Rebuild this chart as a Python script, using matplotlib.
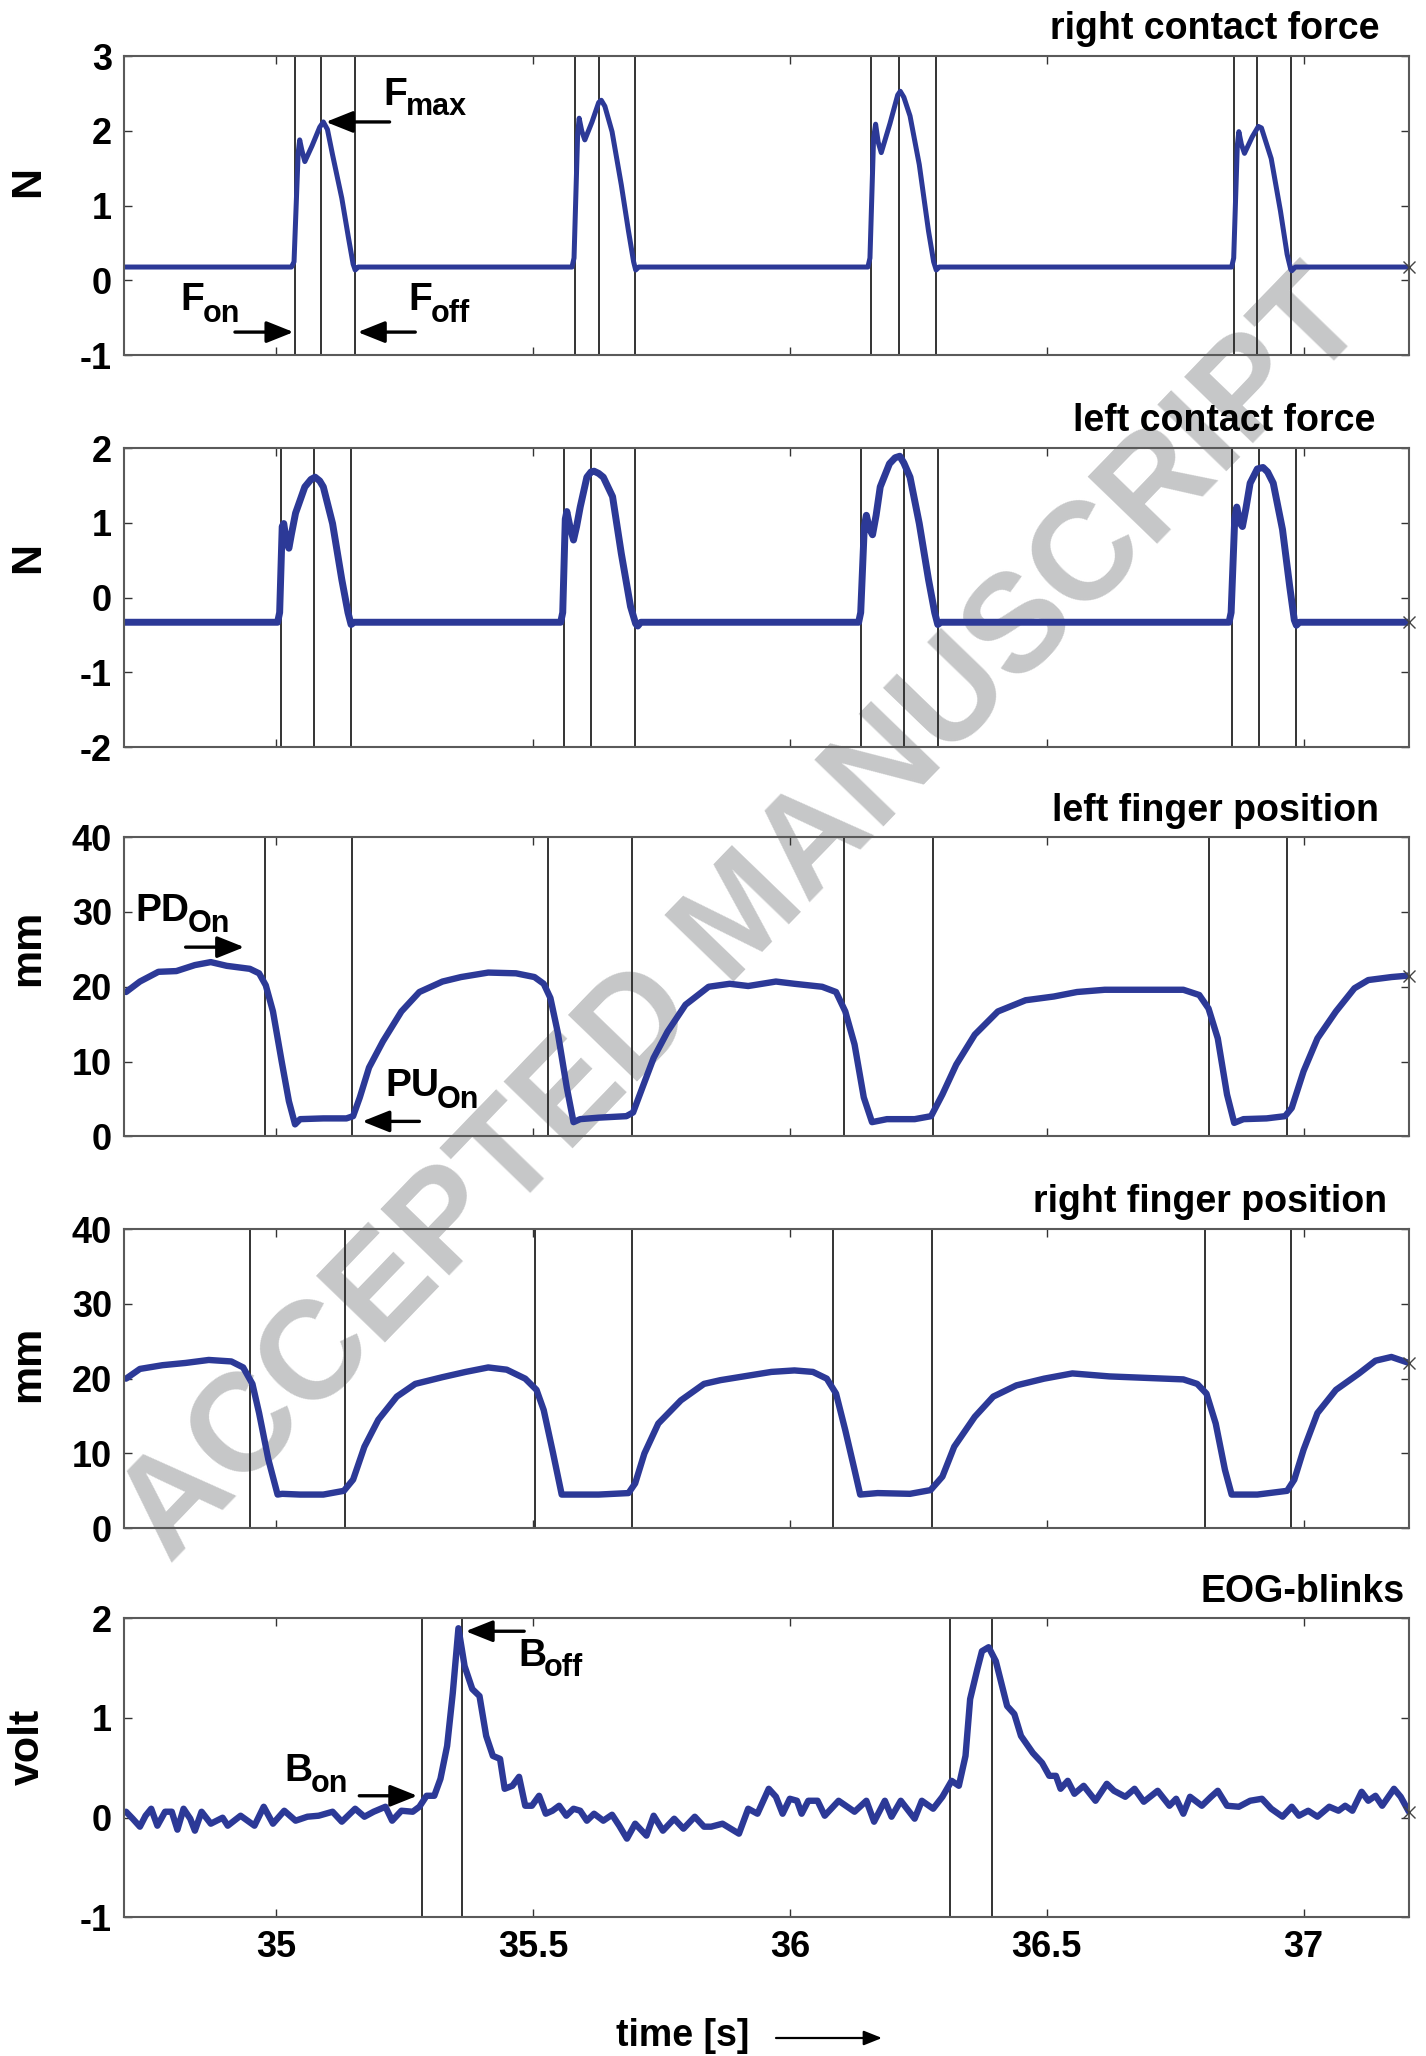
import numpy as np
import matplotlib
matplotlib.use("Agg")
import matplotlib.pyplot as plt

plt.rcParams['font.family'] = ['Liberation Sans', 'DejaVu Sans']
plt.rcParams['font.weight'] = 'bold'
plt.rcParams['axes.unicode_minus'] = False

BLUE = '#2c3997'
XMIN, XMAX = 34.705, 37.205
FS = 26

# ---- data (time in s) ----
rforce_t = [34.705, 35.030, 35.035, 35.043, 35.046, 35.050, 35.056, 35.070, 35.085, 35.092,
            35.100, 35.110, 35.128, 35.141, 35.150, 35.154, 35.160,
            35.576, 35.580, 35.587, 35.590, 35.595, 35.601, 35.615, 35.628, 35.633, 35.640,
            35.654, 35.672, 35.686, 35.696, 35.700, 35.706,
            36.152, 36.156, 36.163, 36.167, 36.172, 36.178, 36.195, 36.210, 36.215, 36.222,
            36.234, 36.252, 36.270, 36.280, 36.285, 36.291,
            36.860, 36.864, 36.871, 36.874, 36.879, 36.885, 36.900, 36.912, 36.918, 36.937,
            36.955, 36.968, 36.975, 36.977, 36.984, 37.205]
rforce_v = [0.18, 0.18, 0.25, 1.70, 1.88, 1.75, 1.59, 1.80, 2.05, 2.12,
            2.02, 1.68, 1.10, 0.57, 0.22, 0.14, 0.18,
            0.18, 0.30, 1.95, 2.17, 2.00, 1.88, 2.12, 2.38, 2.41, 2.33,
            1.99, 1.28, 0.66, 0.25, 0.14, 0.18,
            0.18, 0.30, 1.90, 2.09, 1.85, 1.71, 2.10, 2.48, 2.53, 2.45,
            2.20, 1.55, 0.66, 0.25, 0.14, 0.18,
            0.18, 0.30, 1.80, 1.99, 1.82, 1.70, 1.92, 2.06, 2.04, 1.63,
            0.93, 0.35, 0.15, 0.13, 0.18, 0.18]
rforce_events = [35.036, 35.0875, 35.153, 35.581, 35.628, 35.699,
                 36.159, 36.212, 36.284, 36.865, 36.909, 36.975]

lforce_t = [34.705, 35.003, 35.007, 35.012, 35.015, 35.020, 35.025, 35.030, 35.038, 35.056,
            35.068, 35.076, 35.085, 35.092, 35.110, 35.128, 35.140, 35.146, 35.152,
            35.554, 35.558, 35.563, 35.566, 35.572, 35.579, 35.585, 35.592, 35.605, 35.613,
            35.619, 35.628, 35.637, 35.655, 35.672, 35.690, 35.700, 35.704, 35.710,
            36.134, 36.138, 36.145, 36.149, 36.155, 36.161, 36.168, 36.176, 36.194, 36.205,
            36.214, 36.222, 36.234, 36.252, 36.270, 36.282, 36.288, 36.294,
            36.855, 36.859, 36.866, 36.870, 36.876, 36.881, 36.888, 36.896, 36.910, 36.921,
            36.930, 36.941, 36.959, 36.973, 36.982, 36.986, 36.992, 37.205]
lforce_v = [-0.33, -0.33, -0.20, 0.95, 0.99, 0.75, 0.66, 0.85, 1.13, 1.48,
            1.58, 1.61, 1.56, 1.48, 0.99, 0.24, -0.20, -0.36, -0.33,
            -0.33, -0.20, 1.05, 1.15, 0.95, 0.77, 0.95, 1.21, 1.61, 1.68,
            1.69, 1.66, 1.61, 1.35, 0.59, -0.12, -0.35, -0.38, -0.33,
            -0.33, -0.20, 0.95, 1.10, 0.92, 0.84, 1.10, 1.48, 1.79, 1.87,
            1.89, 1.80, 1.61, 0.99, 0.24, -0.20, -0.36, -0.33,
            -0.33, -0.20, 1.05, 1.21, 1.00, 0.95, 1.20, 1.53, 1.72, 1.74,
            1.68, 1.53, 0.91, 0.15, -0.30, -0.37, -0.33, -0.33]
lforce_events = [35.009, 35.074, 35.146, 35.561, 35.614, 35.699,
                 36.138, 36.222, 36.288, 36.861, 36.914, 36.985]

lpos_t = [34.708, 34.735, 34.771, 34.806, 34.842, 34.873, 34.904, 34.949, 34.967, 34.980,
          34.994, 35.011, 35.025, 35.037, 35.047, 35.092, 35.137, 35.150, 35.163, 35.181,
          35.208, 35.244, 35.279, 35.324, 35.360, 35.413, 35.467, 35.503, 35.521, 35.534,
          35.548, 35.566, 35.579, 35.592, 35.628, 35.682, 35.695, 35.713, 35.735, 35.762,
          35.797, 35.842, 35.883, 35.919, 35.973, 36.009, 36.063, 36.090, 36.108, 36.126,
          36.144, 36.160, 36.189, 36.243, 36.275, 36.297, 36.324, 36.360, 36.405, 36.459,
          36.514, 36.559, 36.613, 36.685, 36.766, 36.797, 36.815, 36.833, 36.851, 36.865,
          36.883, 36.928, 36.964, 36.977, 37.000, 37.027, 37.063, 37.099, 37.126, 37.171, 37.205]
lpos_v = [19.3, 20.7, 22.0, 22.1, 22.9, 23.3, 22.8, 22.4, 21.8, 20.2,
          16.7, 10.0, 4.7, 1.6, 2.3, 2.4, 2.4, 2.7, 5.2, 9.2,
          12.7, 16.7, 19.3, 20.7, 21.3, 21.9, 21.8, 21.3, 20.4, 18.5,
          14.0, 6.5, 1.9, 2.3, 2.5, 2.7, 3.2, 6.5, 10.5, 14.0,
          17.6, 20.0, 20.4, 20.1, 20.7, 20.4, 20.0, 19.3, 16.7, 12.3,
          5.2, 1.9, 2.3, 2.3, 2.7, 5.6, 9.6, 13.6, 16.7, 18.2,
          18.7, 19.3, 19.6, 19.6, 19.6, 18.9, 17.1, 13.1, 5.6, 1.8,
          2.3, 2.4, 2.7, 3.8, 8.7, 13.1, 16.7, 19.8, 20.9, 21.3, 21.5]
lpos_events = [34.979, 35.148, 35.529, 35.692, 36.105, 36.278, 36.815, 36.968]

rpos_t = [34.708, 34.735, 34.779, 34.824, 34.869, 34.913, 34.936, 34.954, 34.967, 34.985,
          35.003, 35.012, 35.047, 35.092, 35.132, 35.150, 35.172, 35.199, 35.235, 35.271,
          35.324, 35.369, 35.413, 35.449, 35.485, 35.507, 35.521, 35.539, 35.556, 35.574,
          35.628, 35.686, 35.699, 35.717, 35.744, 35.788, 35.833, 35.865, 35.919, 35.964,
          36.009, 36.045, 36.072, 36.090, 36.108, 36.126, 36.137, 36.171, 36.234, 36.274,
          36.297, 36.320, 36.360, 36.396, 36.441, 36.495, 36.550, 36.622, 36.694, 36.766,
          36.793, 36.811, 36.829, 36.847, 36.860, 36.910, 36.968, 36.982, 37.000, 37.027,
          37.063, 37.108, 37.140, 37.171, 37.205]
rpos_v = [20.0, 21.3, 21.8, 22.1, 22.5, 22.3, 21.5, 19.3, 15.4, 9.2,
          4.5, 4.6, 4.5, 4.5, 5.0, 6.5, 10.9, 14.5, 17.6, 19.3,
          20.2, 20.9, 21.5, 21.2, 20.0, 18.5, 15.8, 10.1, 4.5, 4.5,
          4.5, 4.7, 6.0, 10.0, 14.0, 17.1, 19.3, 19.8, 20.4, 20.9,
          21.1, 20.9, 20.0, 18.0, 13.1, 7.8, 4.5, 4.7, 4.6, 5.1,
          6.9, 10.9, 14.9, 17.6, 19.1, 20.0, 20.7, 20.3, 20.1, 19.9,
          19.3, 18.0, 14.0, 7.8, 4.5, 4.5, 5.0, 6.5, 10.5, 15.4,
          18.5, 20.7, 22.4, 22.9, 22.1]
rpos_events = [34.950, 35.135, 35.504, 35.692, 36.084, 36.277, 36.809, 36.976]

eog_t = [34.708, 34.721, 34.735, 34.746, 34.757, 34.769, 34.784, 34.797, 34.808, 34.820,
         34.833, 34.842, 34.855, 34.873, 34.896, 34.906, 34.931, 34.958, 34.976, 34.994,
         35.016, 35.038, 35.061, 35.083, 35.110, 35.128, 35.154, 35.172, 35.190, 35.213,
         35.226, 35.244, 35.266, 35.279, 35.293, 35.308, 35.320, 35.333, 35.344, 35.355,
         35.367, 35.382, 35.396, 35.409, 35.422, 35.436, 35.445, 35.460, 35.473, 35.485,
         35.498, 35.512, 35.525, 35.538, 35.551, 35.565, 35.579, 35.592, 35.605, 35.619,
         35.637, 35.654, 35.668, 35.683, 35.699, 35.721, 35.735, 35.753, 35.775, 35.793,
         35.815, 35.833, 35.847, 35.869, 35.901, 35.919, 35.937, 35.959, 35.973, 35.986,
         36.000, 36.014, 36.023, 36.036, 36.054, 36.068, 36.095, 36.126, 36.149, 36.164,
         36.185, 36.198, 36.216, 36.243, 36.257, 36.279, 36.297, 36.315, 36.329, 36.342,
         36.351, 36.365, 36.374, 36.387, 36.401, 36.423, 36.437, 36.450, 36.473, 36.491,
         36.505, 36.518, 36.527, 36.541, 36.554, 36.572, 36.595, 36.617, 36.631, 36.653,
         36.671, 36.689, 36.716, 36.739, 36.752, 36.766, 36.779, 36.802, 36.820, 36.833,
         36.851, 36.874, 36.896, 36.919, 36.937, 36.959, 36.977, 36.991, 37.009, 37.027,
         37.050, 37.068, 37.081, 37.095, 37.113, 37.126, 37.140, 37.153, 37.176, 37.189, 37.205]
eog_v = [0.06, -0.01, -0.09, 0.02, 0.09, -0.08, 0.06, 0.06, -0.12, 0.09,
         -0.01, -0.13, 0.06, -0.06, 0.00, -0.08, 0.02, -0.08, 0.11, -0.06,
         0.07, -0.03, 0.01, 0.02, 0.06, -0.04, 0.09, 0.01, 0.06, 0.11,
         -0.03, 0.07, 0.06, 0.11, 0.22, 0.22, 0.39, 0.72, 1.25, 1.90,
         1.52, 1.29, 1.22, 0.82, 0.62, 0.59, 0.29, 0.32, 0.41, 0.12,
         0.12, 0.22, 0.04, 0.07, 0.12, 0.02, 0.09, 0.07, -0.03, 0.04,
         -0.03, 0.03, -0.08, -0.21, -0.06, -0.18, 0.02, -0.13, -0.01, -0.11,
         0.01, -0.09, -0.09, -0.06, -0.16, 0.09, 0.04, 0.29, 0.21, 0.04,
         0.19, 0.17, 0.04, 0.17, 0.17, 0.02, 0.17, 0.06, 0.17, -0.04,
         0.17, 0.01, 0.17, -0.01, 0.17, 0.09, 0.21, 0.37, 0.32, 0.62,
         1.19, 1.49, 1.67, 1.71, 1.57, 1.12, 1.04, 0.82, 0.65, 0.55,
         0.42, 0.42, 0.29, 0.37, 0.24, 0.32, 0.17, 0.34, 0.27, 0.21,
         0.29, 0.16, 0.27, 0.12, 0.19, 0.04, 0.21, 0.12, 0.21, 0.27,
         0.12, 0.11, 0.17, 0.19, 0.09, 0.01, 0.11, 0.02, 0.07, 0.01,
         0.11, 0.07, 0.12, 0.07, 0.26, 0.17, 0.22, 0.12, 0.29, 0.21, 0.06]
eog_events = [35.284, 35.362, 36.312, 36.393]

titles = ['right contact force', 'left contact force', 'left finger position',
          'right finger position', 'EOG-blinks']
ylabels = ['N', 'N', 'mm', 'mm', 'volt']
yticks = [[-1, 0, 1, 2, 3], [-2, -1, 0, 1, 2], [0, 10, 20, 30, 40],
          [0, 10, 20, 30, 40], [-1, 0, 1, 2]]
xticks = [35, 35.5, 36, 36.5, 37]
xticklabels = ['35', '35.5', '36', '36.5', '37']

series = [(rforce_t, rforce_v, rforce_events, 3.6),
          (lforce_t, lforce_v, lforce_events, 5.0),
          (lpos_t, lpos_v, lpos_events, 4.6),
          (rpos_t, rpos_v, rpos_events, 4.6),
          (eog_t, eog_v, eog_events, 4.6)]

# axes layout (figure fractions)
LEFT, WIDTH = 0.0873, 0.9007
bottoms = [0.8272, 0.6366, 0.4473, 0.2567, 0.0674]
HEIGHT = 0.1455
title_x = [0.977, 0.974, 0.977, 0.983, 0.997]
ylabel_y = [0.58, 0.635, 0.63, 0.55, 0.57]

fig = plt.figure(figsize=(14.26, 20.56), dpi=100)

# watermark behind everything
fig.text(0.522, 0.553, 'ACCEPTED MANUSCRIPT', fontsize=100, fontweight='bold',
         color='#c6c7c8', rotation=46, ha='center', va='center',
         rotation_mode='anchor', zorder=-10)

axes = []
for i in range(5):
    ax = fig.add_axes([LEFT, bottoms[i], WIDTH, HEIGHT])
    ax.patch.set_alpha(0)
    t, v, ev, lw = series[i]
    for e in ev:
        ax.axvline(e, color='#333333', lw=1.4, zorder=1)
    ax.plot(t, v, color=BLUE, lw=lw, solid_capstyle='round', solid_joinstyle='round', zorder=2)
    ax.plot(t[-1], v[-1], 'x', color='#444444', ms=9, mew=1.0, clip_on=False, zorder=3)
    ax.set_xlim(XMIN, XMAX)
    ax.set_ylim(yticks[i][0], yticks[i][-1])
    ax.set_yticks(yticks[i])
    ax.set_xticks(xticks)
    if i == 4:
        ax.set_xticklabels(xticklabels)
    else:
        ax.set_xticklabels([])
    ax.tick_params(direction='in', length=6, width=1.0, color='#333333',
                   top=True, right=True, labelsize=FS, pad=9)
    for s in ax.spines.values():
        s.set_color('#5a5a5a')
        s.set_linewidth(1.5)
    ax.text(-0.0751, ylabel_y[i], ylabels[i], rotation=90, ha='center', va='center',
            fontsize=31, transform=ax.transAxes)
    ax.annotate(titles[i], xy=(title_x[i], 1), xycoords='axes fraction',
                xytext=(0, 12), textcoords='offset points', ha='right',
                va='baseline', fontsize=27)
    axes.append(ax)

arrow = dict(arrowstyle='-|>,head_length=0.5,head_width=0.2', mutation_scale=33,
             color='k', lw=2.4, shrinkA=0, shrinkB=0)

def label(ax, x1, y1, main, x2, y2, sub):
    ax.text(x1, y1, main, fontsize=28, ha='left', va='baseline')
    ax.text(x2, y2, sub, fontsize=22, ha='left', va='baseline')

# right contact force annotations
a = axes[0]
label(a, 35.208, 2.35, 'F', 35.253, 2.21, 'max')
a.annotate('', xy=(35.097, 2.12), xytext=(35.221, 2.12), arrowprops=arrow)
label(a, 34.813, -0.40, 'F', 34.857, -0.56, 'on')
a.annotate('', xy=(35.034, -0.69), xytext=(34.920, -0.69), arrowprops=arrow)
label(a, 35.257, -0.40, 'F', 35.302, -0.56, 'off')
a.annotate('', xy=(35.159, -0.69), xytext=(35.271, -0.69), arrowprops=arrow)

# left finger position annotations
a = axes[2]
label(a, 34.726, 28.8, 'PD', 34.829, 27.3, 'On')
a.annotate('', xy=(34.938, 25.3), xytext=(34.824, 25.3), arrowprops=arrow)
label(a, 35.2125, 5.4, 'PU', 35.313, 3.85, 'On')
a.annotate('', xy=(35.168, 2.0), xytext=(35.279, 2.0), arrowprops=arrow)

# EOG annotations
a = axes[4]
label(a, 35.016, 0.37, 'B', 35.067, 0.26, 'on')
a.annotate('', xy=(35.275, 0.22), xytext=(35.162, 0.22), arrowprops=arrow)
label(a, 35.471, 1.52, 'B', 35.522, 1.42, 'off')
a.annotate('', xy=(35.369, 1.87), xytext=(35.483, 1.87), arrowprops=arrow)

# x label with arrow
fig.text(683 / 1426, 1 - 2036 / 2056, 'time [s]', fontsize=27, ha='center', va='center')
fig.add_artist(matplotlib.patches.FancyArrowPatch(
    (776 / 1426, 1 - 2038 / 2056), (882 / 1426, 1 - 2038 / 2056),
    transform=fig.transFigure, arrowstyle='-|>,head_length=0.5,head_width=0.2',
    mutation_scale=22, color='k', lw=1.6, shrinkA=0, shrinkB=0))

fig.savefig('out.png', dpi=100)
